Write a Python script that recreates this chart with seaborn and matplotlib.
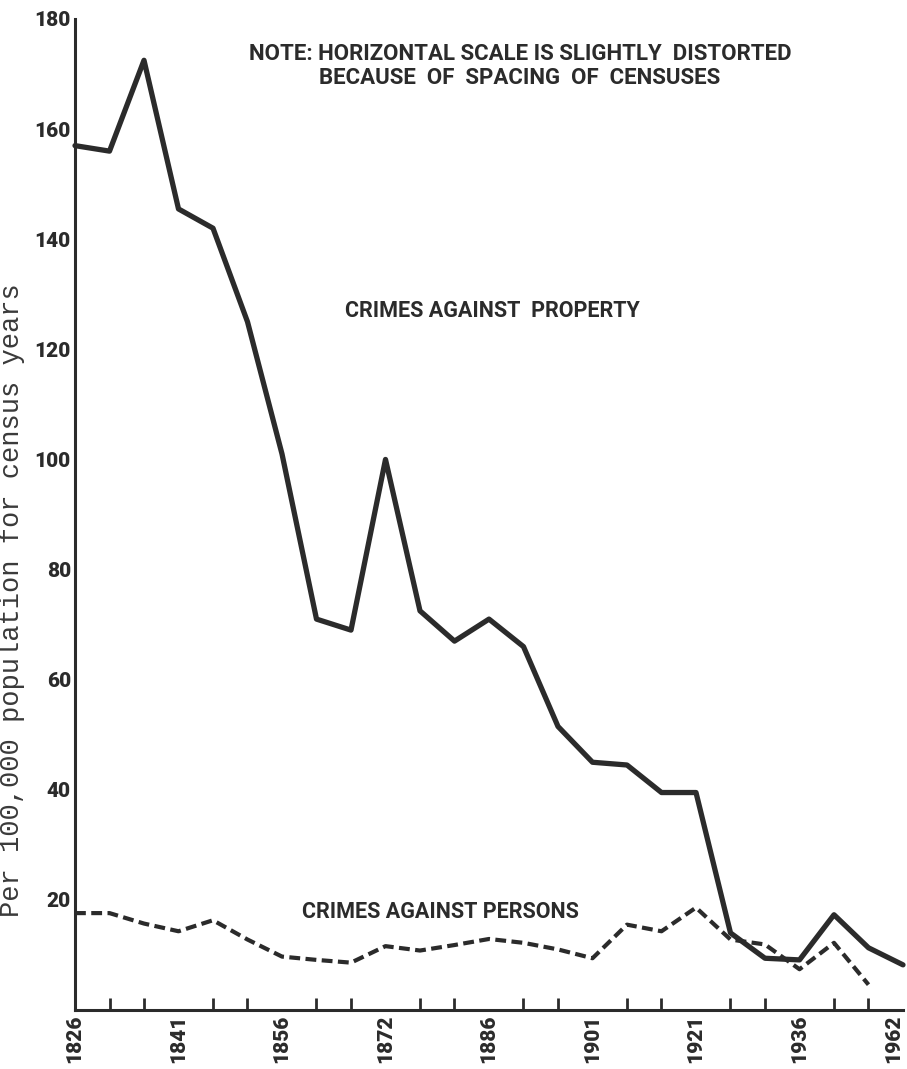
import pandas as pd
import matplotlib.pyplot as plt
import seaborn as sns

# Census positions (evenly spaced ticks), labelled every third one
year_labels = ["1826", "1841", "1856", "1872", "1886", "1901", "1921", "1936", "1962"]

# Rates per 100,000 population
property_rate = [157, 156, 172.5, 145.5, 142, 125, 101, 71, 69, 100, 72.5, 67, 71,
                 66, 51.5, 45, 44.5, 39.5, 39.5, 14, 9.4, 9.1, 17.3, 11.3, 8.2]
persons_rate = [17.6, 17.6, 15.7, 14.3, 16.3, 12.8, 9.7, 9.1, 8.6, 11.6, 10.8, 11.8,
                12.9, 12.2, 11.0, 9.4, 15.5, 14.3, 18.6, 12.8, 11.9, 7.4, 12.2, 4.6]

df_prop = pd.DataFrame({"pos": range(len(property_rate)), "rate": property_rate})
df_pers = pd.DataFrame({"pos": range(len(persons_rate)), "rate": persons_rate})

sns.set_style("white")
ink = "#2b2b2b"
label_font = ["Roboto", "DejaVu Sans"]

fig = plt.figure(figsize=(9.07, 10.69), dpi=100)
ax = fig.add_axes([75 / 907, 1 - 1010 / 1069, 828 / 907, 991 / 1069])

sns.lineplot(data=df_prop, x="pos", y="rate", color=ink, linewidth=3.8,
             ax=ax, clip_on=False)
sns.lineplot(data=df_pers, x="pos", y="rate", color=ink, linewidth=3.0,
             linestyle=(0, (2.6, 1.3)), ax=ax, clip_on=False)

ax.set_xlim(0, 24)
ax.set_ylim(0, 180)

# y axis
ax.set_yticks(range(20, 181, 20))
ax.set_yticklabels([str(v) for v in range(20, 181, 20)], fontfamily=label_font,
                   fontweight="heavy", fontsize=15, color=ink)
# x axis
ax.set_xticks(range(0, 25, 3))
ax.set_xticks([i for i in range(25) if i % 3 != 0], minor=True)
ax.set_xticklabels(year_labels, rotation=90, fontfamily=label_font,
                   fontweight="heavy", fontsize=15, color=ink)
ax.get_xticklabels()[-1].set_horizontalalignment("right")

ax.tick_params(axis="both", which="major", direction="in", length=16.5,
               width=2.2, color=ink, pad=3)
ax.tick_params(axis="x", which="minor", direction="in", length=9,
               width=2.0, color=ink, bottom=True)

for side in ["top", "right"]:
    ax.spines[side].set_visible(False)
for side in ["left", "bottom"]:
    ax.spines[side].set_linewidth(2.2)
    ax.spines[side].set_color(ink)

ax.set_xlabel("")
ax.set_ylabel("Per 100,000 population for census years",
              fontfamily=["Liberation Mono", "DejaVu Sans Mono"],
              fontsize=19.5, color="#3a3a3a")
ax.yaxis.set_label_coords(-50 / 828, (1010 - 600) / 991)

# annotations
ax.text(12.9, 171.4, "NOTE: HORIZONTAL SCALE IS SLIGHTLY  DISTORTED\nBECAUSE  OF  SPACING  OF  CENSUSES",
        ha="center", va="center", fontfamily=label_font, fontweight="bold",
        fontsize=16, color=ink, linespacing=1.1)
ax.text(12.1, 126.9, "CRIMES AGAINST  PROPERTY", ha="center", va="center",
        fontfamily=label_font, fontweight="bold", fontsize=15.5, color=ink)
ax.text(10.6, 17.8, "CRIMES AGAINST PERSONS", ha="center", va="center",
        fontfamily=label_font, fontweight="bold", fontsize=15.5, color=ink)

plt.savefig("out.png", dpi=100)
